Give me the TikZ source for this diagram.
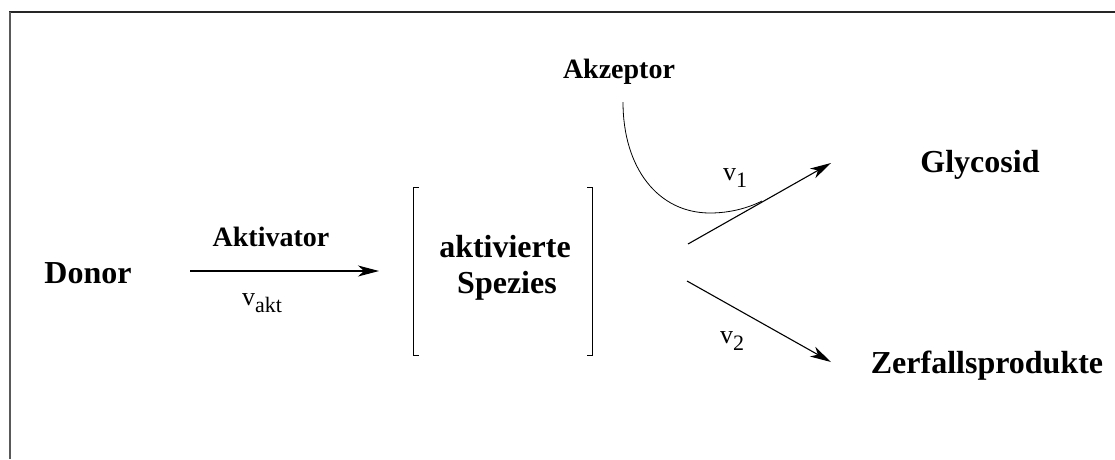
\documentclass[tikz,border=0pt]{standalone}
\usepackage{fontspec}
\setmainfont{Liberation Serif}
\usetikzlibrary{arrows.meta}
\tikzset{
  big/.style={inner sep=0pt, anchor=base, font=\fontsize{32}{36}\selectfont\bfseries},
  mid/.style={inner sep=0pt, anchor=base, font=\fontsize{28}{32}\selectfont\bfseries},
  rate/.style={inner sep=0pt, anchor=base west, font=\fontsize{26}{30}\selectfont},
  reac/.style={line width=1.1pt, -{Stealth[length=21pt,width=11pt,inset=6pt]}},
  thin/.style={line width=0.8pt},
  frametop/.style={line width=2pt, draw=black!85},
  frameleft/.style={line width=2.2pt, draw=black!65}
}
\newcommand{\subl}[1]{\raisebox{-7pt}{\fontsize{22}{24}\selectfont #1}}
\begin{document}
\begin{tikzpicture}[x=1pt,y=-1pt]
\useasboundingbox (0,0) rectangle (1115,459);
\coordinate (f0) at (1115,12);
\coordinate (f1) at (9,12);
\coordinate (f2) at (10,459);
\draw[frametop] (f0) -- (f1);
\draw[frameleft] (f1 -| f2) -- (f2);
% texts
\node[big] (donor) at (88,283) {Donor};
\node[mid] (aktivator) at (271,246) {Aktivator};
\node[rate] (vakt) at (242,305) {v\subl{akt}};
\node[big] (akt1) at (505,257) {aktivierte};
\node[big] (akt2) at (507,293) {Spezies};
\node[mid] (akzeptor) at (619,78) {Akzeptor};
\node[big] (glyc) at (980,172) {Glycosid};
\node[big] (zerf) at (987,373) {Zerfallsprodukte};
\node[rate] (v1) at (723,180) {v\subl{1}};
\node[rate] (v2) at (720,343) {v\subl{2}};
% coordinates
\coordinate (a0) at (190,271);
\coordinate (a1) at (379,271);
\coordinate (b0) at (688,244);
\coordinate (b1) at (831,163);
\coordinate (c0) at (687,281);
\coordinate (c1) at (831,362);
\coordinate (k0) at (623,102);
\coordinate (k1) at (710,213);
\coordinate (k2) at (762,201);
% bracket
\draw[thin] (419,187) -- (413,187) -- (413,355) -- (419,355);
\draw[thin] (587,187) -- (592,187) -- (592,355) -- (587,355);
% arrows
\draw[reac] (a0) -- (a1);
\draw[reac] (b0) -- (b1);
\draw[reac] (c0) -- (c1);
\draw[thin] (k0) .. controls (623,168) and (658,213) .. (k1)
            .. controls (730,213) and (748,208) .. (k2);
\end{tikzpicture}
\end{document}
